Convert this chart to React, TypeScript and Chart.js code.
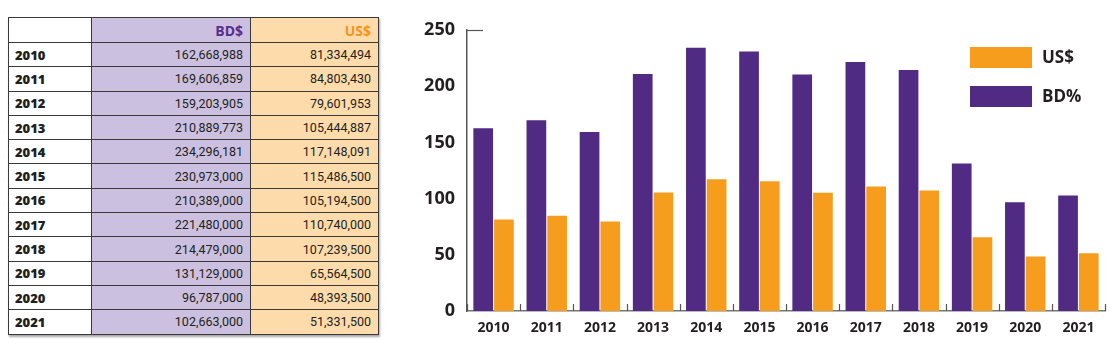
import React, { useEffect, useRef } from "react";
import { Chart, registerables } from "chart.js";

Chart.register(...registerables);

const years = ["2010", "2011", "2012", "2013", "2014", "2015", "2016", "2017", "2018", "2019", "2020", "2021"];
const tableBD = [162668988, 169606859, 159203905, 210889773, 234296181, 230973000, 210389000, 221480000, 214479000, 131129000, 96787000, 102663000];
const tableUS = [81334494, 84803430, 79601953, 105444887, 117148091, 115486500, 105194500, 110740000, 107239500, 65564500, 48393500, 51331500];
const chartBD = [162.67, 169.61, 159.2, 210.89, 234.3, 230.97, 210.39, 221.48, 214.48, 131.13, 96.79, 102.66];
const chartUS = [81.33, 84.8, 79.6, 105.44, 117.15, 115.49, 105.19, 110.74, 107.24, 65.56, 48.39, 51.33];
const yTicks = [0, 50, 100, 150, 200, 250];

const PURPLE = "#512a84";
const ORANGE = "#f79d1e";
const FONT = "'Open Sans', 'Noto Sans', sans-serif";

const fmt = (v: number) => v.toLocaleString("en-US");

const legendPlugin = {
  id: "customLegend",
  afterDraw(chart: any) {
    const ctx = chart.ctx;
    const ds = chart.data.datasets;
    const items = [ds[1], ds[0]];
    const x = chart.chartArea.right - 135;
    ctx.save();
    items.forEach((d: any, i: number) => {
      const y = 47 + i * 39;
      ctx.fillStyle = d.backgroundColor;
      ctx.fillRect(x, y, 62, 21);
      ctx.fillStyle = "#231f20";
      ctx.font = `700 17px ${FONT}`;
      ctx.textBaseline = "middle";
      ctx.textAlign = "left";
      ctx.fillText(d.label, x + 72, y + 11);
    });
    ctx.restore();
  },
};

const axisDecor = {
  id: "axisDecor",
  afterDatasetsDraw(chart: any) {
    const ctx = chart.ctx;
    const xs = chart.scales.x;
    const ys = chart.scales.y;
    const bottom = chart.chartArea.bottom;
    const n = xs.ticks.length;
    const step = n > 1 ? xs.getPixelForValue(1) - xs.getPixelForValue(0) : 0;
    ctx.save();
    ctx.strokeStyle = "#555";
    ctx.lineWidth = 1.2;
    for (let i = 0; i <= n; i++) {
      const px = Math.round(xs.getPixelForValue(0) - step / 2 + i * step) + 0.5;
      ctx.beginPath();
      ctx.moveTo(px, bottom);
      ctx.lineTo(px, bottom - 7);
      ctx.stroke();
    }
    const topY = Math.round(ys.getPixelForValue(yTicks[yTicks.length - 1])) + 0.5;
    ctx.beginPath();
    ctx.moveTo(chart.chartArea.left, topY);
    ctx.lineTo(chart.chartArea.left + 16, topY);
    ctx.stroke();
    ctx.restore();
  },
};

function BarChart() {
  const ref = useRef<HTMLCanvasElement>(null);
  useEffect(() => {
    if (!ref.current) return;
    const chart = new Chart(ref.current, {
      type: "bar",
      data: {
        labels: years,
        datasets: [
          { label: "BD%", data: chartBD, backgroundColor: PURPLE, barPercentage: 0.95, categoryPercentage: 0.78 },
          { label: "US$", data: chartUS, backgroundColor: ORANGE, barPercentage: 0.95, categoryPercentage: 0.78 },
        ],
      },
      options: {
        responsive: false,
        animation: false,
        layout: { padding: { left: 0, right: 13, top: 30, bottom: 0 } },
        plugins: { legend: { display: false }, tooltip: { enabled: false } },
        scales: {
          x: {
            grid: { display: false, drawTicks: false },
            border: { display: true, color: "#777", width: 1.5 },
            ticks: { color: "#231f20", font: { family: FONT, size: 14, weight: "bold" }, padding: 9 },
            afterFit(scale: any) {
              scale.height = 40;
            },
          },
          y: {
            min: 0,
            max: 250,
            afterBuildTicks(scale: any) {
              scale.ticks = yTicks.map((v) => ({ value: v }));
            },
            grid: { display: false, drawTicks: false },
            border: { display: true, color: "#555", width: 1.5 },
            ticks: { color: "#231f20", font: { family: FONT, size: 18, weight: "bold" }, padding: 12 },
            afterFit(scale: any) {
              scale.width = 67;
            },
          },
        },
      },
      plugins: [legendPlugin, axisDecor],
    });
    return () => chart.destroy();
  }, []);
  return <canvas ref={ref} width={718} height={351} style={{ position: "absolute", left: 400, top: 0 }} />;
}

function DataTable() {
  const cellBase: React.CSSProperties = {
    border: "1.3px solid #3a3a3a",
    padding: "0 7px",
    height: 24.3,
    boxSizing: "border-box",
    fontFamily: "Roboto, sans-serif",
    fontSize: 12.5,
    color: "#231f20",
    textAlign: "right",
    whiteSpace: "nowrap",
  };
  const yearCell: React.CSSProperties = {
    ...cellBase,
    textAlign: "left",
    background: "#fff",
    fontFamily: FONT,
    fontWeight: 800,
    fontSize: 13,
    paddingLeft: 6,
  };
  return (
    <table
      style={{
        position: "absolute",
        left: 8,
        top: 17,
        borderCollapse: "collapse",
        tableLayout: "fixed",
        width: 370,
        boxShadow: "1px 2px 2px rgba(0,0,0,0.35)",
      }}
    >
      <colgroup>
        <col style={{ width: 83 }} />
        <col style={{ width: 159 }} />
        <col style={{ width: 128 }} />
      </colgroup>
      <thead>
        <tr>
          <th style={{ ...cellBase, height: 25, background: "#fff" }}></th>
          <th style={{ ...cellBase, height: 25, background: "#cbc0df", color: "#5b2d8e", fontFamily: FONT, fontWeight: 700, fontSize: 14 }}>BD$</th>
          <th style={{ ...cellBase, height: 25, background: "#fddbab", color: "#f7941d", fontFamily: FONT, fontWeight: 700, fontSize: 14 }}>US$</th>
        </tr>
      </thead>
      <tbody>
        {years.map((y, i) => (
          <tr key={y}>
            <td style={yearCell}>{y}</td>
            <td style={{ ...cellBase, background: "#cbc0df" }}>{fmt(tableBD[i])}</td>
            <td style={{ ...cellBase, background: "#fddbab" }}>{fmt(tableUS[i])}</td>
          </tr>
        ))}
      </tbody>
    </table>
  );
}

export default function App() {
  return (
    <div style={{ position: "fixed", left: 0, top: 0, width: 1118, height: 351, background: "#fff", overflow: "hidden" }}>
      <DataTable />
      <BarChart />
    </div>
  );
}
